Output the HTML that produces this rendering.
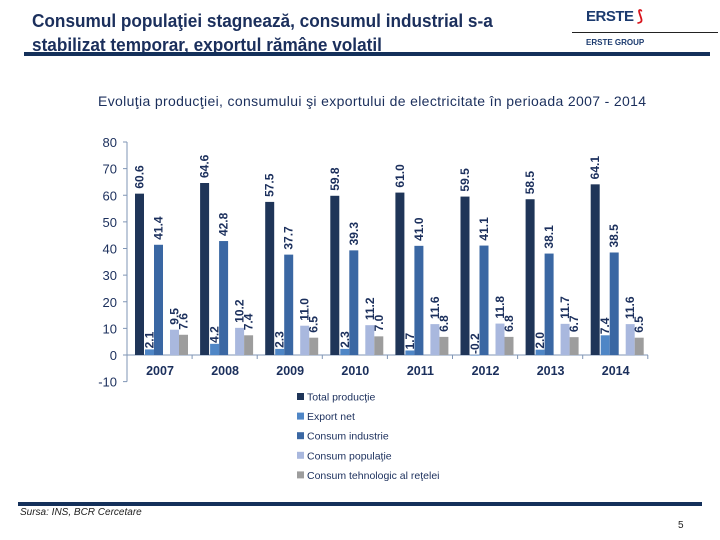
<!DOCTYPE html>
<html><head><meta charset="utf-8">
<style>
body{margin:0;width:720px;height:540px;background:#fff;position:relative;overflow:hidden;font-family:"Liberation Sans",sans-serif;}
.abs{position:absolute}
</style></head>
<body>
<div class="abs" style="left:32px;top:9px;width:540px;font-size:18.5px;font-weight:bold;color:#1b2f5c;line-height:24px;transform:scaleX(0.93);transform-origin:left">Consumul populaţiei stagnează, consumul industrial s-a stabilizat temporar, exportul rămâne volatil</div>
<div class="abs" style="left:24px;top:52px;width:686px;height:4px;background:#14305a"></div>
<div class="abs" style="left:586px;top:7px;font-size:15px;font-weight:bold;color:#1b3a6e;letter-spacing:-0.5px">ERSTE<span style="color:#d8141c"> ⟆</span></div>
<div class="abs" style="left:572px;top:32px;width:146px;height:1px;background:#222"></div>
<div class="abs" style="left:586px;top:38px;font-size:8px;font-weight:bold;color:#1b3a6e">ERSTE GROUP</div>
<div class="abs" style="left:98px;top:93px;font-size:14px;letter-spacing:0.35px;color:#1b2f5c">Evoluţia producţiei, consumului şi exportului de electricitate în perioada 2007 - 2014</div>
<svg class="abs" style="left:0;top:0" width="720" height="540" id="chart"></svg>
<div class="abs" style="left:18px;top:502px;width:684px;height:4px;background:#14305a"></div>
<div class="abs" style="left:20px;top:507px;font-size:10px;font-style:italic;color:#222">Sursa: INS, BCR Cercetare</div>
<div class="abs" style="left:678px;top:520px;font-size:10px;color:#222">5</div>
<script>
const years=["2007","2008","2009","2010","2011","2012","2013","2014"];
const total=[60.6,64.6,57.5,59.8,61.0,59.5,58.5,64.1];
const exportNet=[2.1,4.2,2.3,2.3,1.7,-0.2,2.0,7.4];
const industry=[41.4,42.8,37.7,39.3,41.0,41.1,38.1,38.5];
const population=[9.5,10.2,11.0,11.2,11.6,11.8,11.7,11.6];
const tech=[7.6,7.4,6.5,7.0,6.8,6.8,6.7,6.5];
const yTicks=[-10,0,10,20,30,40,50,60,70,80];
const seriesNames=["Total producţie","Export net","Consum industrie","Consum populaţie","Consum tehnologic al reţelei"];
const NS="http://www.w3.org/2000/svg";
const svg=document.getElementById('chart');
function y(v){return 355-v*2.6625;}
function x(i){return 127+i*65.1+8;}
function mk(tag,at){const e=document.createElementNS(NS,tag);for(const k in at)e.setAttribute(k,at[k]);svg.appendChild(e);return e;}
const series=[total,exportNet,industry,population,tech];
const colors=["#1f3558","#4f86c6","#3a67a3","#a9b8de","#9d9d9d"];
const offs=[0,10,19,35,44];
let ax=mk('line',{x1:127,y1:y(80),x2:127,y2:y(-10),stroke:'#7f95b5','stroke-width':1});

let bx=mk('line',{x1:127,y1:y(0),x2:648,y2:y(0),stroke:'#7f95b5','stroke-width':1});

yTicks.forEach(t=>{
  mk('line',{x1:123,y1:y(t),x2:127,y2:y(t),stroke:'#7f95b5'});
  const tx=mk('text',{x:117,y:y(t)+5,'text-anchor':'end','font-size':13,fill:'#1b2f5c','font-family':'Liberation Sans, sans-serif'});
  tx.textContent=t;
  
  
});
years.forEach((yr,i)=>{
  const gx=x(i);
  mk('line',{x1:127+(i+1)*65.1,y1:y(0),x2:127+(i+1)*65.1,y2:y(0)+4,stroke:'#7f95b5'});
  const lt=mk('text',{x:gx+25,y:375,'text-anchor':'middle','font-size':12.5,'font-weight':'bold',fill:'#1b2f5c','font-family':'Liberation Sans, sans-serif'});
  lt.textContent=yr;
  
  
  series.forEach((s,k)=>{
    const v=s[i];const bxp=gx+offs[k];
    const top=Math.min(y(v),y(0)),h=Math.abs(y(v)-y(0));
    const r=mk('rect',{x:bxp,y:top,width:9,height:Math.max(h,0.5),fill:colors[k]});
    
    
    const ly=(k==1?Math.min(y(Math.max(v,0)),y(0))-1:y(v)-5);
    const lx=bxp+8.5;
    const t=mk('text',{x:lx,y:ly,transform:`rotate(-90 ${lx} ${ly})`,'font-size':12,'font-weight':'bold',fill:'#1b2f5c','font-family':'Liberation Sans, sans-serif'});
    t.textContent=v.toFixed(1);
    
    
  });
});
seriesNames.forEach((n,k)=>{
  const ly=397+k*19.6;
  const sq=mk('rect',{x:297,y:ly-4,width:7,height:7,fill:colors[k]});
  
  
  const t=mk('text',{x:307,y:ly+3.5,'font-size':10.5,fill:'#1b2f5c','font-family':'Liberation Sans, sans-serif'});
  t.textContent=n;
  
  
});
</script>
</body></html>
